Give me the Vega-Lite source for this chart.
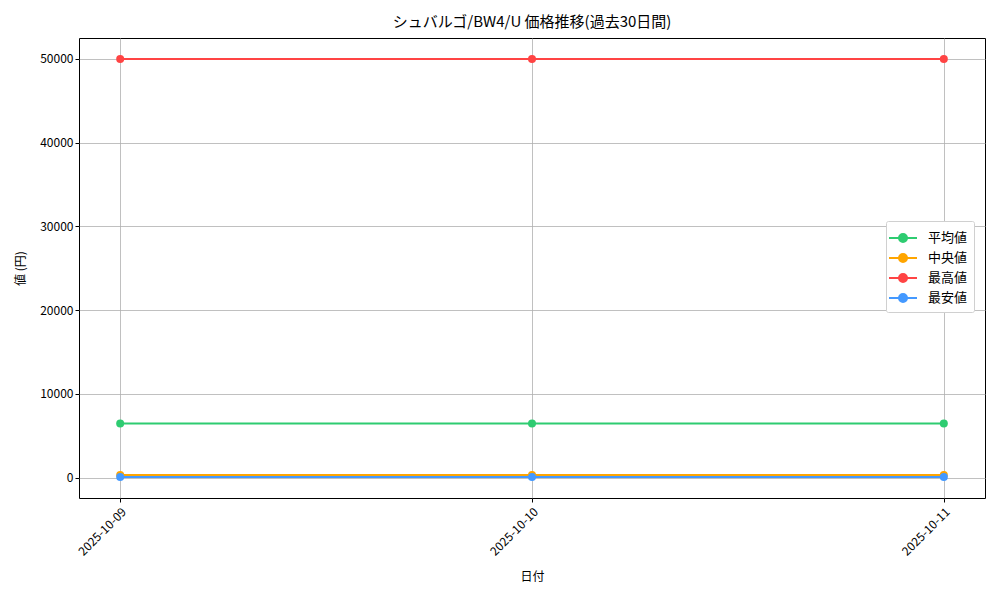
{
  "$schema": "https://vega.github.io/schema/vega-lite/v6.json",
  "autosize": "none",
  "width": 906,
  "height": 460,
  "padding": {"left": 79, "top": 38, "right": 15, "bottom": 102},
  "title": {"text": "シュバルゴ/BW4/U 価格推移(過去30日間)", "fontSize": 15, "fontWeight": "normal", "offset": 8, "color": "#000"},
  "data": {
    "values": [
      {"date": "2025-10-09", "series": "平均値", "value": 6450},
      {"date": "2025-10-10", "series": "平均値", "value": 6450},
      {"date": "2025-10-11", "series": "平均値", "value": 6450},
      {"date": "2025-10-09", "series": "中央値", "value": 300},
      {"date": "2025-10-10", "series": "中央値", "value": 300},
      {"date": "2025-10-11", "series": "中央値", "value": 300},
      {"date": "2025-10-09", "series": "最高値", "value": 50000},
      {"date": "2025-10-10", "series": "最高値", "value": 50000},
      {"date": "2025-10-11", "series": "最高値", "value": 50000},
      {"date": "2025-10-09", "series": "最安値", "value": 50},
      {"date": "2025-10-10", "series": "最安値", "value": 50},
      {"date": "2025-10-11", "series": "最安値", "value": 50}
    ]
  },
  "encoding": {
    "x": {
      "field": "date", "type": "ordinal", "title": "日付",
      "scale": {"type": "point", "padding": 0.1},
      "axis": {"labelAngle": -45, "labelAlign": "right", "labelBaseline": "top", "labelPadding": 4, "titlePadding": 14}
    },
    "y": {
      "field": "value", "type": "quantitative", "title": "値 (円)",
      "scale": {"domain": [-2447, 52497], "nice": false, "zero": false},
      "axis": {"values": [0, 10000, 20000, 30000, 40000, 50000], "format": "d", "titlePadding": 12}
    },
    "color": {
      "field": "series", "type": "nominal",
      "scale": {"domain": ["平均値", "中央値", "最高値", "最安値"], "range": ["#2ecc71", "#ffa500", "#ff4444", "#4499ff"]}
    }
  },
  "layer": [
    {
      "mark": {"type": "line", "strokeWidth": 2},
      "encoding": {
        "color": {
          "field": "series", "type": "nominal",
          "scale": {"domain": ["平均値", "中央値", "最高値", "最安値"], "range": ["#2ecc71", "#ffa500", "#ff4444", "#4499ff"]},
          "legend": {
            "title": null,
            "orient": "none",
            "legendX": 807,
            "legendY": 183,
            "symbolType": "M-1.4,0L1.4,0M-0.4,0A0.4,0.4,0,1,0,0.4,0A0.4,0.4,0,1,0,-0.4,0Z",
            "symbolSize": 400,
            "symbolStrokeWidth": 2,
            "labelFontSize": 13,
            "labelColor": "#000",
            "rowPadding": 1,
            "padding": 6,
            "fillColor": "#ffffff",
            "strokeColor": "#d0d0d0",
            "cornerRadius": 2,
            "labelOffset": 14,
            "encode": {
              "symbols": {
                "update": {
                  "fill": {"scale": "color", "field": "value"},
                  "stroke": {"scale": "color", "field": "value"},
                  "opacity": {"value": 1}
                }
              }
            }
          }
        }
      }
    },
    {
      "mark": {"type": "point", "filled": true, "size": 64, "opacity": 1, "shape": "circle"}
    }
  ],
  "config": {
    "font": "Noto Sans CJK JP",
    "view": {"stroke": "#000", "strokeWidth": 1},
    "axis": {
      "domain": false,
      "grid": true,
      "gridColor": "#b0b0b0",
      "gridWidth": 0.8,
      "tickColor": "#000",
      "tickSize": 4,
      "labelFontSize": 12,
      "labelColor": "#000",
      "titleFontSize": 12,
      "titleFontWeight": "normal",
      "titleColor": "#000"
    }
  }
}
